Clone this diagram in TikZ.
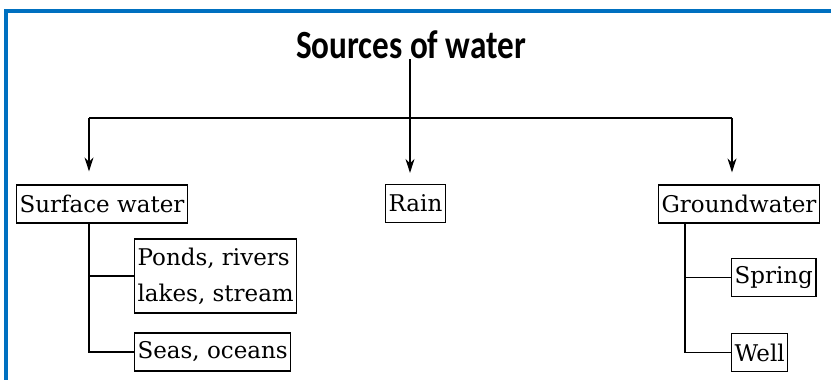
\documentclass[tikz,border=0pt]{standalone}
\usepackage{fontspec}
\usepackage{graphicx}
\newfontfamily\titlefont{Carlito}
\newfontfamily\boxfont{DejaVu Serif}
\usetikzlibrary{arrows.meta}
\definecolor{frameblue}{RGB}{0,112,192}
\begin{document}
\begin{tikzpicture}[x=1pt,y=-1pt,
  box/.style={draw, line width=1.2pt, inner xsep=3pt, inner ysep=2pt,
    minimum height=38pt, font=\boxfont\fontsize{23}{36}\selectfont, align=left},
  conn/.style={line width=1.2pt},
  arr/.style={conn,-{Stealth[length=14pt,width=9pt]}}]
\useasboundingbox (0,0) rectangle (831,380);
\fill[white] (0,0) rectangle (831,380);
\draw[frameblue, line width=4pt] (6,380) -- (6,10.5) -- (831,10.5);
\node[font=\titlefont\bfseries\fontsize{40}{46}\selectfont, inner sep=0pt] (title) at (411,45) {\scalebox{0.83}[1]{Sources of water}};
\node[box] (surface) at (102,204) {Surface water};
\node[box] (rain) at (415.5,203.5) {Rain};
\node[box] (ground) at (739,204) {Groundwater};
\node[box, anchor=west, minimum height=74pt] (ponds) at (134,276) {Ponds, rivers\\lakes, stream};
\node[box, anchor=west] (seas) at (134,352) {Seas, oceans};
\node[box, anchor=west] (spring) at (731,277.5) {Spring};
\node[box, anchor=west] (well) at (731,352.5) {Well};
\coordinate (hub) at (410,118);
\coordinate (hl) at (89,118);
\coordinate (hr) at (732,118);
\coordinate (gv) at (685,0);
\draw[conn] (hub |- title.south) -- (hub);
\draw[conn] (hl) -- (hr);
\draw[arr, shorten >=13pt] (hl) -- (hl |- surface.north);
\draw[arr, shorten >=11pt] (hub) -- (hub |- rain.north);
\draw[arr, shorten >=12pt] (hr) -- (hr |- ground.north);
\draw[conn] (hl |- surface.south) |- (seas.west);
\draw[conn] (hl |- ponds.west) -- (ponds.west);
\draw[conn] (gv |- ground.south) |- (well.west);
\draw[conn] (gv |- spring.west) -- (spring.west);
\end{tikzpicture}
\end{document}
